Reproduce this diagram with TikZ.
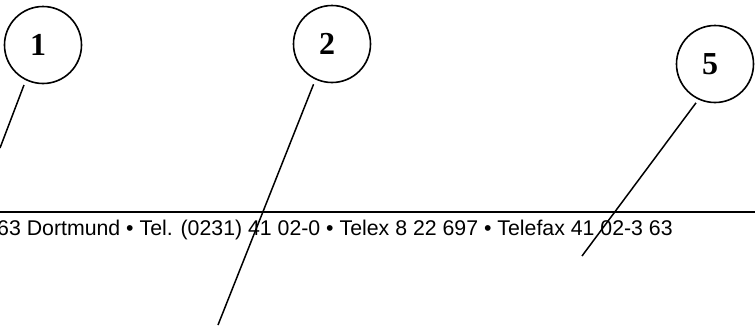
\documentclass[tikz,border=0pt]{standalone}
\usepackage{fontspec}
\setmainfont{Liberation Sans}
\newfontfamily\numfont{Liberation Serif}
\begin{document}
\begin{tikzpicture}[x=1pt,y=-1pt,
  callout/.style={circle,draw,line width=1.6pt,minimum size=77pt,inner sep=0pt},
  num/.style={inner sep=0pt,font=\numfont\bfseries\fontsize{32}{32}\selectfont},
  leader/.style={line width=1.5pt,shorten <=5pt},
  hrule/.style={line width=2pt},
  addr/.style={anchor=base west,inner sep=0pt,font=\fontsize{21.3}{21.3}\selectfont}]
\useasboundingbox (0,0) rectangle (755,325);
% rule and address line
\coordinate (rl) at (0,212);
\coordinate (rr) at (755,212);
\draw[hrule] (rl) -- (rr);
\node[addr] (address) at (-3,235) {63 Dortmund • Tel. (0231) 41 02-0 • Telex 8 22 697 • Telefax 41 02-3 63};
% callouts
\node[callout] (c1) at (43,45) {};
\node[num] (n1) at (38,45) {1};
\node[callout] (c2) at (332,44) {};
\node[num] (n2) at (327,44) {2};
\node[callout] (c5) at (715,64) {};
\node[num] (n5) at (710,64) {5};
% leader ends
\coordinate (e1) at (0,148);
\coordinate (e2) at (218,325);
\coordinate (e5) at (582,256);
\draw[leader] (c1.244) -- (e1);
\draw[leader] (c2.245) -- (e2);
\draw[leader,shorten <=4pt] (c5.245) -- (e5);
\end{tikzpicture}
\end{document}
